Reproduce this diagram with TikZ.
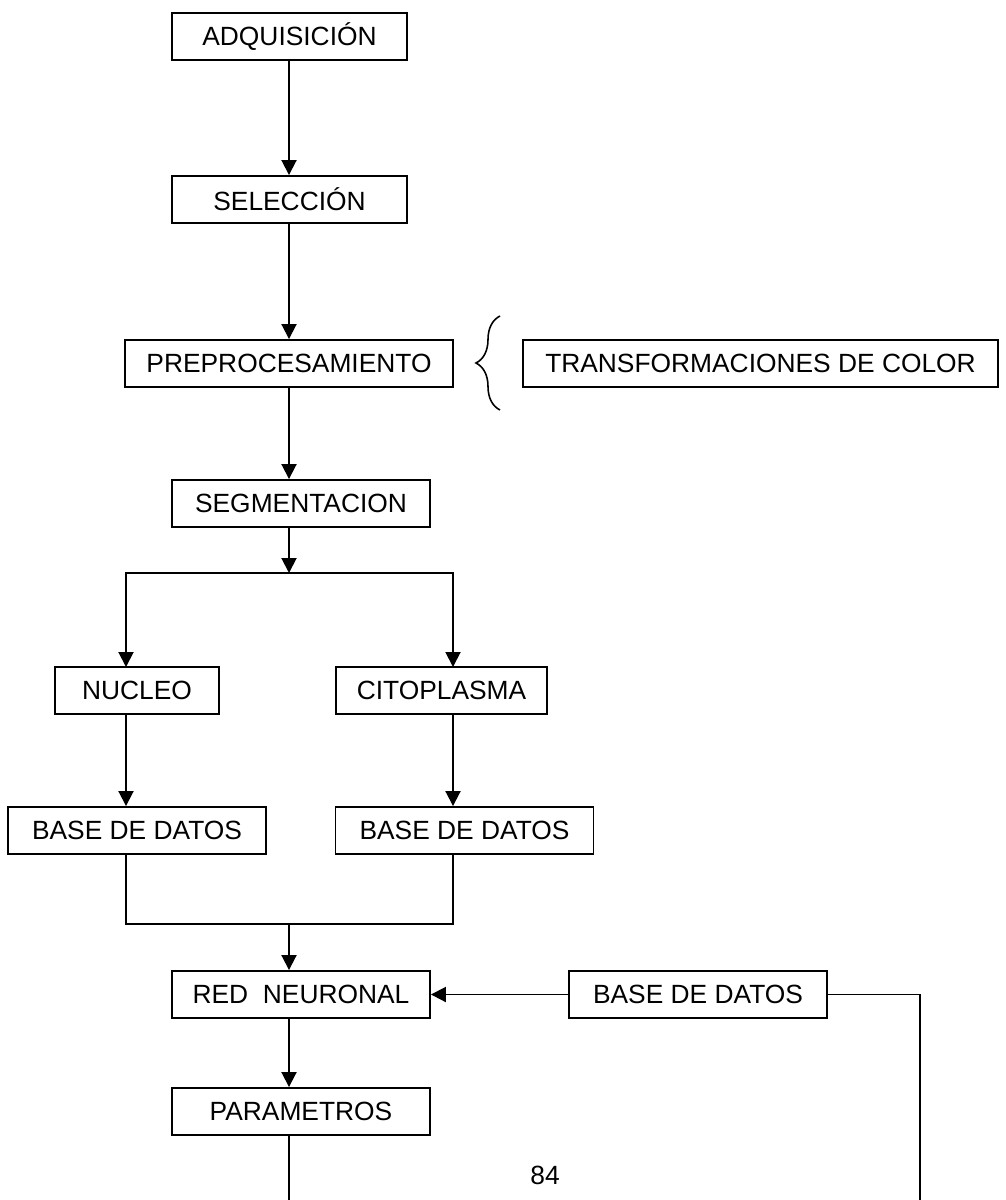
\documentclass[tikz,border=0pt]{standalone}
\usepackage{fontspec}
\setmainfont{Liberation Sans}
\usepackage{tikz}
\usetikzlibrary{arrows.meta,decorations.pathreplacing}

\begin{document}
\begin{tikzpicture}[x=0.02cm,y=-0.02cm,line width=1.1pt,
  caja/.style={draw,minimum height=0.94cm,inner sep=0pt,font=\fontsize{15}{18}\selectfont},
  flecha/.style={-{Triangle[length=0.3cm,width=0.3cm]}}]

\useasboundingbox (0,0) rectangle (1005,1200);

\node [caja,minimum width=4.7cm]  (adq) at (289.5,36.5) {ADQUISICIÓN};
\node [caja,minimum width=4.7cm]  (sel) at (289.5,199.5) {SELECCIÓN};
\node [caja,minimum width=6.56cm] (pre) at (289,363.5) {PREPROCESAMIENTO};
\node [caja,minimum width=9.5cm]  (trf) at (760.5,363.5) {TRANSFORMACIONES DE COLOR};
\node [caja,minimum width=5.16cm] (seg) at (301,503.5) {SEGMENTACION};

\node [caja,minimum width=3.28cm] (nuc) at (137,690.5) {NUCLEO};
\node [caja,minimum width=4.22cm] (cit) at (441.5,690.5) {CITOPLASMA};
\node [caja,minimum width=5.16cm] (bdda) at (137,830.5) {BASE DE DATOS};
\node [caja,minimum width=5.16cm] (bddb) at (464.5,830.5) {BASE DE DATOS};

\node [caja,minimum width=5.16cm] (red) at (301,994.5) {RED\ \ NEURONAL};
\node [caja,minimum width=5.16cm] (bddc) at (698,994.5) {BASE DE DATOS};
\node [caja,minimum width=5.16cm] (par) at (301,1111.5) {PARAMETROS};

\node [font=\fontsize{15}{18}\selectfont] (pag) at (545,1175) {84};

% puntos de las ramas
\coordinate (spl) at (289,573);
\coordinate (nucin) at (126,667);
\coordinate (citin) at (453,667);
\coordinate (mrg) at (289,924);
\coordinate (pbot) at (289,1200);
\coordinate (rgt) at (920,1200);
\coordinate (brb) at (500,410);
\coordinate (brt) at (500,316);

\draw[flecha] (adq.south -| pre.south) -- (sel.north -| pre.south);
\draw[flecha] (sel.south -| pre.south) -- (pre.north);
\draw[flecha] (pre.south) -- (pre.south |- seg.north);
\draw[flecha] (seg.south -| spl) -- (spl);

\draw[flecha] (spl) -| (nucin);
\draw[flecha] (spl) -| (citin);
\draw[flecha] (nuc.south -| nucin) -- (bdda.north -| nucin);
\draw[flecha] (cit.south -| citin) -- (bddb.north -| citin);

\draw (bdda.south -| nucin) |- (mrg) -| (bddb.south -| citin);
\draw[flecha] (mrg) -- (mrg |- red.north);

\draw[flecha] (bddc.west) -- (red.east);
\draw (bddc.east) -| (rgt);

\draw[flecha] (red.south -| mrg) -- (par.north -| mrg);
\draw (par.south -| mrg) -- (pbot);

\draw[line width=0.9pt,decorate,decoration={brace,amplitude=0.48cm}] (brb) -- (brt);

\end{tikzpicture}
\end{document}
